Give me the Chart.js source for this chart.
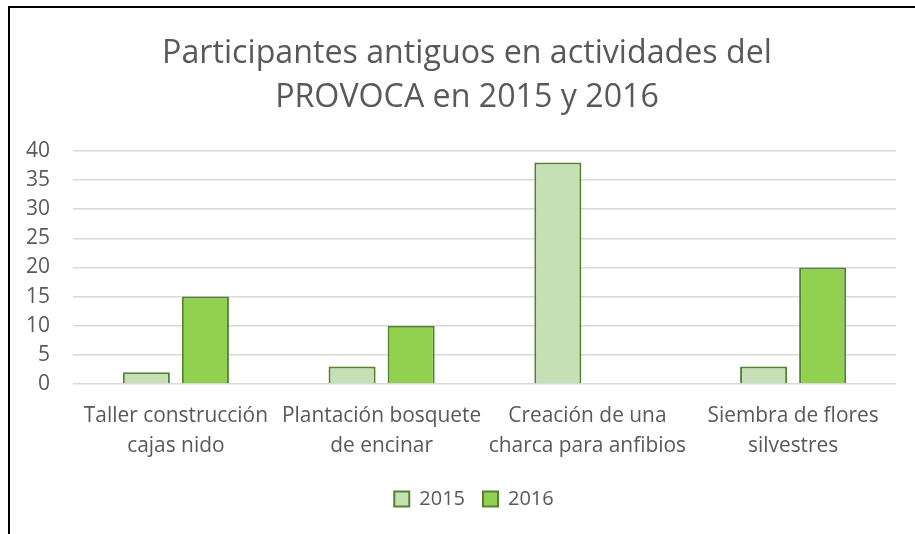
<!DOCTYPE html>
<html>
<head>
<meta charset="utf-8">
<script src="https://cdn.jsdelivr.net/npm/chart.js@4.4.1/dist/chart.umd.min.js"></script>
<style>
  html, body { margin: 0; padding: 0; background: #fff; overflow: hidden; }
  #wrap { position: relative; width: 915px; height: 534px; }
  #frame { position: absolute; left: 8px; top: 6px; width: 1000px; height: 1000px;
           border-left: 2px solid #000; border-top: 2px solid #000; box-sizing: border-box; }
  canvas { position: absolute; left: 0; top: 0; }
</style>
</head>
<body>
<div id="wrap">
  <div id="frame"></div>
  <canvas id="chart" width="915" height="534"></canvas>
</div>
<script>
const titleLines = ["Participantes antiguos en actividades del", "PROVOCA en 2015 y 2016"];
const categories = [
  ["Taller construcción", "cajas nido"],
  ["Plantación bosquete", "de encinar"],
  ["Creación de una", "charca para anfibios"],
  ["Siembra de flores", "silvestres"]
];
const seriesNames = ["2015", "2016"];
const values2015 = [2, 3, 38, 3];
const values2016 = [15, 10, null, 20];

const FONT = "'Open Sans', Calibri, sans-serif";
const TEXT = "#595959";

// title and legend are centred on the whole frame, not on the plot box
const centreShift = {
  id: "centreShift",
  afterLayout(chart) {
    chart.titleBlock.left += 14;
    chart.titleBlock.right += 14;
    chart.legend.left += 21;
    chart.legend.right += 21;
  }
};

const chart = new Chart(document.getElementById("chart"), {
  type: "bar",
  data: {
    labels: categories,
    datasets: [
      {
        label: seriesNames[0],
        data: values2015,
        backgroundColor: "#C5E0B4",
        borderColor: "#548235",
        borderWidth: 2,
        categoryPercentage: 0.574,
        barPercentage: 0.797
      },
      {
        label: seriesNames[1],
        data: values2016,
        backgroundColor: "#92D050",
        borderColor: "#548235",
        borderWidth: 2,
        categoryPercentage: 0.574,
        barPercentage: 0.797
      }
    ]
  },
  options: {
    responsive: false,
    animation: false,
    devicePixelRatio: 1,
    layout: { padding: { left: 10, right: 19, top: 32, bottom: 15 } },
    plugins: {
      title: {
        display: true,
        text: titleLines,
        color: TEXT,
        font: { family: FONT, size: 32.2, weight: "normal", lineHeight: 1.366 },
        padding: { top: 0, bottom: 31 }
      },
      legend: {
        position: "bottom",
        labels: {
          color: TEXT,
          font: { family: FONT, size: 20 },
          boxWidth: 15,
          boxHeight: 15,
          padding: 18,
          useBorderRadius: false
        }
      },
      tooltip: { enabled: false }
    },
    scales: {
      x: {
        grid: { display: false, drawTicks: false },
        border: { display: false },
        ticks: {
          color: TEXT,
          font: { family: FONT, size: 20.9, lineHeight: 1.435 },
          maxRotation: 0,
          autoSkip: false,
          padding: 17
        },
        afterFit: (s) => { s.height = 87; }
      },
      y: {
        min: 0,
        max: 40,
        grid: { color: "#D9D9D9", lineWidth: 1.5, drawTicks: false },
        border: { display: false },
        ticks: {
          stepSize: 5,
          autoSkip: false,
          color: TEXT,
          font: { family: FONT, size: 21 },
          padding: 23
        },
        afterFit: (s) => { s.width = 63; }
      }
    }
  },
  plugins: [centreShift]
});
</script>
</body>
</html>
